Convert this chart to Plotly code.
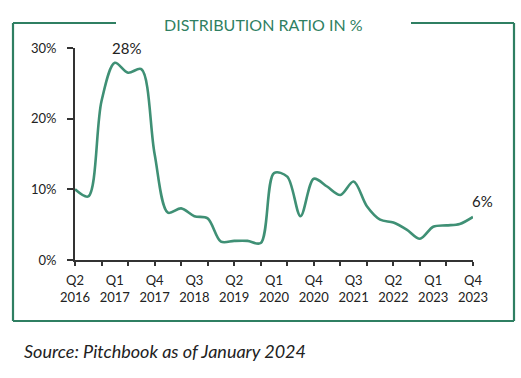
import plotly.graph_objects as go

quarters = [f"Q{q} {y}" for y, qs in [(2016, [2, 3, 4]), (2017, [1, 2, 3, 4]), (2018, [1, 2, 3, 4]),
                                       (2019, [1, 2, 3, 4]), (2020, [1, 2, 3, 4]), (2021, [1, 2, 3, 4]),
                                       (2022, [1, 2, 3, 4]), (2023, [1, 2, 3, 4])] for q in qs]
ratio = [10.0, 9.0, 22.5, 27.9, 26.5, 27.0, 15.0, 6.7, 7.3, 6.2, 5.9, 2.6, 2.7, 2.7, 2.4,
         12.3, 11.8, 6.2, 11.5, 10.4, 9.2, 11.1, 7.6, 5.7, 5.3, 4.3, 3.0, 4.7, 4.9, 5.1, 6.1]
ytick_vals = [0, 10, 20, 30]
ytick_text = ["0%", "10%", "20%", "30%"]
title_text = "DISTRIBUTION RATIO IN %"
source_text = "Source: Pitchbook as of January 2024"

W, H = 521, 378
L, R, T, B = 75, 473, 48, 260
xi = list(range(len(quarters)))
label_idx = xi[::3]
label_text = [quarters[i].replace(" ", "<br>") for i in label_idx]

def px(x):
    return (x - L) / (R - L)

def py(y):
    return (B - y) / (B - T)

GREEN = "#2f7f62"
LINE = "#3f9075"
DARK = "#222222"
FONT = "Lato, 'Open Sans', sans-serif"

fig = go.Figure()
fig.add_trace(go.Scatter(x=xi, y=ratio, mode="lines", line=dict(color=LINE, width=2.6, shape="spline", smoothing=0.9),
                         hoverinfo="skip", cliponaxis=False))

fig.update_layout(
    width=W, height=H, margin=dict(l=L, r=W - R, t=T, b=H - B),
    paper_bgcolor="white", plot_bgcolor="white", showlegend=False,
    font=dict(family=FONT, size=13, color=DARK),
    xaxis=dict(range=[0, len(quarters) - 1], tickvals=label_idx, ticktext=label_text,
               showgrid=False, zeroline=False, showline=True, linecolor="#333333", linewidth=2,
               ticks="outside", ticklen=7, tickcolor="rgba(0,0,0,0)",
               minor=dict(tickvals=xi[::2], ticks="outside", ticklen=4, tickwidth=2, tickcolor="#333333"),
               tickfont=dict(family=FONT, size=13, color=DARK)),
    yaxis=dict(range=[0, 30], tickvals=ytick_vals, ticktext=ytick_text, showgrid=False, zeroline=False,
               showline=True, linecolor="#333333", linewidth=2, ticks="outside", ticklen=6, tickwidth=2,
               tickcolor="#333333", ticklabelstandoff=8, tickfont=dict(family=FONT, size=13, color=DARK)),
)

# frame
frame = [((13, 23), (13, 321)), ((13, 321), (514, 321)), ((514, 321), (514, 23)),
         ((13, 23), (116, 23)), ((411, 23), (514, 23))]
for (x0, y0), (x1, y1) in frame:
    fig.add_shape(type="line", xref="paper", yref="paper", x0=px(x0), y0=py(y0), x1=px(x1), y1=py(y1),
                  line=dict(color=GREEN, width=2.2))

fig.add_annotation(xref="paper", yref="paper", x=px(263), y=py(24), text=title_text, showarrow=False,
                   xanchor="center", yanchor="middle", font=dict(family=FONT, size=16, color=GREEN))
fig.add_annotation(xref="paper", yref="paper", x=px(22), y=py(351), text=f"<i>{source_text}</i>", showarrow=False,
                   xanchor="left", yanchor="middle", font=dict(family=FONT, size=18, color=DARK))

imax = ratio.index(max(ratio))
fig.add_annotation(x=imax, y=ratio[imax], text=f"{round(ratio[imax])}%", showarrow=False, xshift=12, yshift=4,
                   xanchor="center", yanchor="bottom", font=dict(family=FONT, size=15, color=DARK))
fig.add_annotation(x=xi[-1], y=ratio[-1], text=f"{round(ratio[-1])}%", showarrow=False, xshift=-3, yshift=5,
                   xanchor="left", yanchor="bottom", font=dict(family=FONT, size=15, color=DARK))

fig.write_html("out.html", config={"displayModeBar": False, "staticPlot": True},
               post_script="document.body.style.margin='0';document.body.style.overflow='hidden';")
